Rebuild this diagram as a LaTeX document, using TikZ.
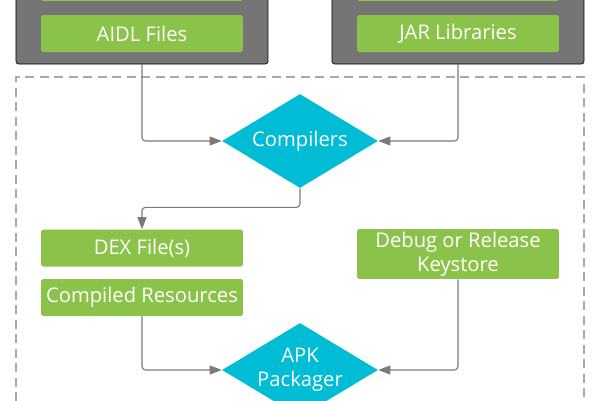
\documentclass[tikz,border=0pt]{standalone}
\usepackage{fontspec}
\setmainfont{Open Sans}
\usetikzlibrary{arrows.meta,shapes.geometric}
\definecolor{leaf}{HTML}{8BC34A}
\definecolor{teal}{HTML}{00BCD4}
\definecolor{slate}{HTML}{757575}
\definecolor{wire}{HTML}{7A7A7A}
\definecolor{fence}{HTML}{A8A8A8}
\tikzstyle{file}=[fill=leaf, rounded corners=1pt, minimum width=4.04cm, minimum height=0.74cm,
  text=white, font=\fontsize{11.5}{13.6}\selectfont, align=center, inner sep=0pt]
\tikzstyle{tool}=[diamond, fill=teal, minimum width=3.12cm, minimum height=1.88cm, inner sep=0pt]
\tikzstyle{tooltext}=[text=white, font=\fontsize{11.5}{13.6}\selectfont, align=center]
\tikzstyle{group}=[fill=slate, rounded corners=1.5pt]
\tikzstyle{flow}=[draw=wire, line width=0.65pt, rounded corners=2pt, -{Triangle[length=0.24cm,width=0.18cm]}]

\begin{document}
\begin{tikzpicture}[x=0.02cm,y=-0.02cm]
\useasboundingbox (0,0) rectangle (600,400);
\clip (0,0) rectangle (600,400);
% source groups
\draw [group] (16,-30) rectangle (268,64);
\draw [group] (332,-30) rectangle (584,64);
\coordinate (srcL) at (142,64);
\coordinate (srcR) at (458,64);
\fill [leaf, rounded corners=1pt] (41,-40) rectangle (243,1);
\fill [leaf, rounded corners=1pt] (357,-40) rectangle (559,1);
\node [file] (aidl) at (142,33.5) {AIDL Files};
\node [file] (jar) at (458,33.5) {JAR Libraries};
% build area
\draw [fence, line width=1.1pt, dash pattern=on 0.18cm off 0.11cm] (16,430) -- (16,77) -- (584,77) -- (584,430);
\node [tool, label={[tooltext]center:Compilers}] (compilers) at (300,141) {};
\node [file] (dex) at (142,248) {DEX File(s)};
\node [file] (res) at (142,297.5) {Compiled Resources};
\node [file, minimum height=1cm] (keystore) at (458,254) {Debug or Release\\Keystore};
\node [tool, label={[tooltext]center:APK\\Packager}] (apk) at (300,370) {};
% connectors
\draw [flow] (srcL) |- (compilers.west);
\draw [flow] (srcR) |- (compilers.east);
\draw [flow] (compilers.south) -- ++(0,19) -| (dex.north);
\draw [flow] (res.south) |- (apk.west);
\draw [flow] (keystore.south) |- (apk.east);
\end{tikzpicture}
\end{document}
